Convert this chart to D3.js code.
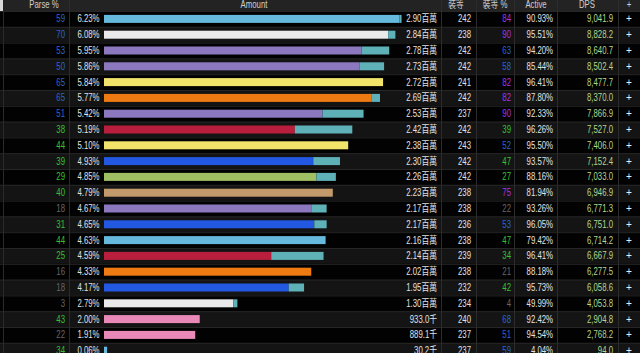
<!DOCTYPE html>
<html><head><meta charset="utf-8">
<script src="https://cdn.jsdelivr.net/npm/d3@7"></script>
<style>
html,body{margin:0;padding:0;background:#000;overflow:hidden;}
svg{display:block;font-family:"Liberation Sans","Noto Sans CJK TC",Arial,sans-serif;font-size:10px;}
</style></head><body>
<svg id="c" width="640" height="353"></svg>
<script>
const parse = [59,70,53,50,65,65,51,38,44,39,29,40,18,31,44,25,16,18,3,43,22,34];
const pctLabels = ["6.23%","6.08%","5.95%","5.86%","5.84%","5.77%","5.42%","5.19%","5.10%","4.93%","4.85%","4.79%","4.67%","4.65%","4.63%","4.59%","4.33%","4.17%","2.79%","2.00%","1.91%","0.06%"];
const amount = [2.90,2.84,2.78,2.73,2.72,2.69,2.53,2.42,2.38,2.30,2.26,2.23,2.17,2.17,2.16,2.14,2.02,1.95,1.30,0.933,0.8891,0.0302];
const petAmount = [0.02,0.07,0.27,0.24,0,0.08,0.40,0.56,0,0.26,0.19,0,0.15,0.12,0,0.51,0,0.15,0.04,0,0,0];
const amountLabels = ["2.90百萬","2.84百萬","2.78百萬","2.73百萬","2.72百萬","2.69百萬","2.53百萬","2.42百萬","2.38百萬","2.30百萬","2.26百萬","2.23百萬","2.17百萬","2.17百萬","2.16百萬","2.14百萬","2.02百萬","1.95百萬","1.30百萬","933.0千","889.1千","30.2千"];
const classes = ["mage","priest","warlock","warlock","rogue","druid","warlock","dk","rogue","shaman","hunter","warrior","warlock","shaman","mage","dk","druid","shaman","priest","paladin","paladin","mage"];
const ilvl = [242,238,242,242,241,242,237,242,243,242,242,238,238,236,238,239,238,232,234,240,237,237];
const ilvlPct = [84,90,63,58,82,82,90,39,52,47,27,75,22,53,47,34,21,42,4,68,51,59];
const active = ["90.93%","95.51%","94.20%","85.44%","96.41%","87.80%","92.33%","96.26%","95.50%","93.57%","88.16%","81.94%","93.26%","96.05%","79.42%","96.41%","88.18%","95.73%","49.99%","92.42%","94.54%","4.04%"];
const dps = ["9,041.9","8,828.2","8,640.7","8,502.4","8,477.7","8,370.0","7,866.9","7,527.0","7,406.0","7,152.4","7,033.0","6,946.9","6,771.3","6,751.0","6,714.2","6,667.9","6,277.5","6,058.6","4,053.8","2,904.8","2,768.2","94.0"];
const headers = ["Parse %","Amount","裝等","裝等 %","Active","DPS","+"];

const classColor = {mage:"#64b9dc",priest:"#e9e9e9",warlock:"#8b78bf",rogue:"#f2e46a",druid:"#ee7b12",dk:"#b91f3c",shaman:"#2358e2",hunter:"#a0bf62",warrior:"#c39a6c",paladin:"#e889b8"};
const petColor = "#5fb1b8";
function rankColor(v){ if(v>=95) return "#ff8000"; if(v>=75) return "#a335ee"; if(v>=50) return "#2c64d2"; if(v>=25) return "#34c234"; return "#666"; }

const svg = d3.select("#c");
const W = 640;
const headerH = 11;
const rowH = 15.8;
const n = parse.length;
const SX = 0.78;
const y = d3.scaleBand().domain(d3.range(n)).range([headerH, headerH + n*rowH]).padding(0);
const x = d3.scaleLinear().domain([0, 3]).range([104, 104 + 3*102.6]);
const colEdges = [69, 441, 476, 514, 557, 618];

function label(sel, xpos, ypos, anchor, color, textFn){
  const g = sel.append("g").attr("transform", (d,i)=>`translate(${typeof xpos==="function"?xpos(d,i):xpos},${ypos}) scale(${SX},1)`);
  g.append("text").attr("text-anchor",anchor).attr("fill",color).text(textFn);
  return g;
}

// header
svg.append("rect").attr("x",0).attr("y",0).attr("width",W).attr("height",headerH).attr("fill","#232323");
svg.append("rect").attr("x",0).attr("y",0).attr("width",3).attr("height",headerH).attr("fill","#d8d8d8");
const headerX = [44, 254, 456, 495, 536, 587, 629];
const hg = svg.selectAll("g.h").data(headers).join("g").attr("class","h")
  .attr("transform",(d,i)=>`translate(${headerX[i]},7.5) scale(${SX},1)`);
hg.append("text").attr("text-anchor","middle").attr("fill","#cfcfcf").text(d=>d);

// rows
const rows = svg.selectAll("g.row").data(d3.range(n)).join("g").attr("class","row")
  .attr("transform", i=>`translate(0,${y(i)})`);
rows.append("rect").attr("x",0).attr("y",0).attr("width",W).attr("height",y.bandwidth())
  .attr("fill", i=> i%2===0 ? "#020202" : "#141414");
rows.append("line").attr("x1",0).attr("x2",W).attr("y1",0.5).attr("y2",0.5).attr("stroke","#262626");
const cy = y.bandwidth()/2;
const bh = 8;
rows.append("rect").attr("x",x(0)).attr("y",cy-bh/2).attr("height",bh)
  .attr("width", i=> Math.max(0, x(amount[i]-petAmount[i]) - x(0)))
  .attr("fill", i=>classColor[classes[i]]);
rows.filter(i=>petAmount[i]>0).append("rect").attr("x",i=>x(amount[i]-petAmount[i])).attr("y",cy-bh/2).attr("height",bh)
  .attr("width", i=> x(amount[i]) - x(amount[i]-petAmount[i]))
  .attr("fill", petColor);

const ty = cy + 3.5;
rows.each(function(i){
  const r = d3.select(this);
  label(r, 65, ty, "end", rankColor(parse[i]), parse[i]);
  label(r, 99.5, ty, "end", "#e2e2e2", pctLabels[i]);
  label(r, 437, ty, "end", "#e2e2e2", amountLabels[i]);
  label(r, 471, ty, "end", "#e2e2e2", ilvl[i]);
  label(r, 511, ty, "end", rankColor(ilvlPct[i]), ilvlPct[i]);
  label(r, 553, ty, "end", "#e2e2e2", active[i]);
  label(r, 613, ty, "end", "#b6d68c", dps[i]);
  r.append("text").attr("x",629).attr("y",ty).attr("text-anchor","middle").attr("fill","#f0f0f0").text("+");
});

// column separators
svg.selectAll("line.sep").data(colEdges).join("line").attr("class","sep")
  .attr("x1",d=>d+0.5).attr("x2",d=>d+0.5).attr("y1",0).attr("y2",353).attr("stroke","#2c2c2c");
svg.append("line").attr("x1",3.5).attr("x2",3.5).attr("y1",headerH).attr("y2",353).attr("stroke","#2a2a2a");
</script>
</body></html>
